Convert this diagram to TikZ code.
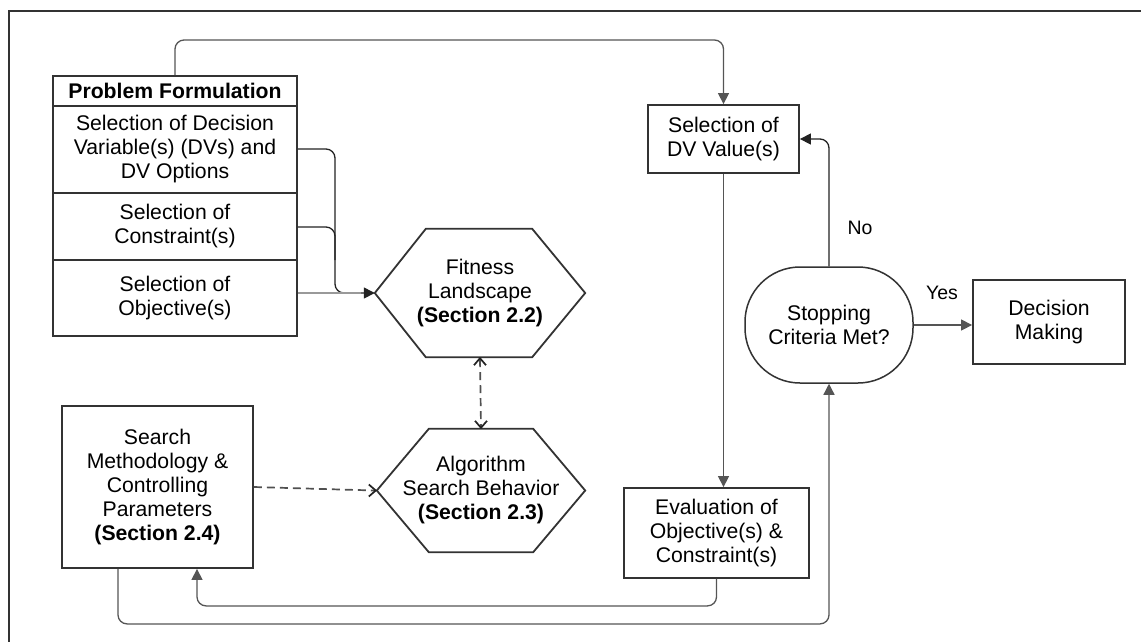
\documentclass[tikz,border=0pt]{standalone}
\usepackage{fontspec}
\setmainfont{Liberation Sans}
\usetikzlibrary{arrows.meta,calc}
\definecolor{bordc}{HTML}{333333}
\definecolor{linec}{HTML}{555555}
\definecolor{darkc}{HTML}{222222}
\definecolor{lightc}{HTML}{999999}
\definecolor{dashc}{HTML}{505050}
\begin{document}
\begin{tikzpicture}[x=1pt,y=-1pt,
  every node/.style={font=\fontsize{21.2}{24}\selectfont, align=center, inner sep=0pt},
  box/.style={draw=bordc, line width=1.8pt, fill=white},
  hexline/.style={draw=bordc, line width=1.8pt},
  conn/.style={draw=linec, line width=1.3pt, rounded corners=9pt},
  arr/.style={-{Triangle[length=11pt,width=11pt]}},
  darr/.style={draw=dashc, line width=1.7pt, dash pattern=on 8pt off 5pt},
  tipseg/.style={draw=darkc, line width=1.7pt, solid, line join=miter},
  lbl/.style={font=\fontsize{19.5}{22}\selectfont}
]
\useasboundingbox (0,0) rectangle (1141,641);
% frame
\draw[draw=bordc, line width=1.8pt] (9,645) -- (9,11) -- (1145,11);

% Problem formulation
\node[box, minimum width=244pt, minimum height=30pt, font=\fontsize{21.2}{24}\selectfont\bfseries] (hdr) at (175,91) {Problem Formulation};
\node[box, minimum width=244pt, minimum height=87pt] (r1) at (175,149.5) {Selection of Decision\\Variable(s) (DVs) and\\DV Options};
\node[box, minimum width=244pt, minimum height=67pt] (r2) at (175,226.5) {Selection of\\Constraint(s)};
\node[box, minimum width=244pt, minimum height=76pt] (r3) at (175,298) {Selection of\\Objective(s)};

% hexagons
\node[minimum width=210pt, minimum height=128pt] (fit) at (480,293) {Fitness\\Landscape\\\textbf{(Section 2.2)}};
\draw[hexline] (fit.west) -- ($(fit.north west)+(51,0)$) -- ($(fit.north east)+(-53,0)$) -- (fit.east) -- ($(fit.south east)+(-53,0)$) -- ($(fit.south west)+(51,0)$) -- cycle;
\node[minimum width=208pt, minimum height=123pt] (alg) at (481,490.5) {Algorithm\\Search Behavior\\\textbf{(Section 2.3)}};
\draw[hexline] (alg.west) -- ($(alg.north west)+(52,0)$) -- ($(alg.north east)+(-52,0)$) -- (alg.east) -- ($(alg.south east)+(-52,0)$) -- ($(alg.south west)+(52,0)$) -- cycle;

% other boxes
\node[box, minimum width=191pt, minimum height=162pt] (search) at (157.5,487) {Search\\Methodology \&\\Controlling\\Parameters\\\textbf{(Section 2.4)}};
\node[box, minimum width=151pt, minimum height=68pt] (seldv) at (723.5,139) {Selection of\\DV Value(s)};
\node[box, minimum width=185pt, minimum height=90pt] (eval) at (716.5,533) {Evaluation of\\Objective(s) \&\\Constraint(s)};
\node[box, draw=bordc, line width=1.5pt, rounded corners=55pt, minimum width=168pt, minimum height=116pt] (stop) at (829,325) {Stopping\\Criteria Met?};
\node[box, minimum width=152pt, minimum height=84pt] (dec) at (1049,322) {Decision\\Making};

% connectors
\coordinate (jx) at (335,0);
\draw[conn, arr] (hdr.north) -- (hdr.north |- 0,40) -| (seldv.north);
\draw[conn, draw=darkc, arr] (r1.east |- 0,149) -- (jx |- 0,149) -- (jx |- fit.west) -- (fit.west);
\draw[conn, draw=darkc] (r2.east |- 0,227) -- (jx |- 0,227) -- (jx |- 0,260);
\draw[conn, draw=lightc] (r3.east |- fit.west) -- ($(fit.west)+(-14,0)$);
% dashed connectors with open chevron tips
\draw[darr] ($(fit.south)+(0,2)$) -- ($(alg.north)+(0,-2)$);
\draw[tipseg] ($(fit.south)+(-6,8)$) -- ($(fit.south)+(0,1)$) -- ($(fit.south)+(6,8)$);
\draw[tipseg] ($(alg.north)+(-6,-8)$) -- ($(alg.north)+(0,-1)$) -- ($(alg.north)+(6,-8)$);
\draw[darr] (search.east) -- ($(alg.west)+(-2,0)$);
\draw[tipseg] ($(alg.west)+(-8,-6)$) -- ($(alg.west)+(-1,0)$) -- ($(alg.west)+(-8,6)$);
\draw[conn, arr] (seldv.south) -- (seldv.south |- eval.north);
\draw[conn, arr] (eval.south) -- ++(0,27) -| ([xshift=39.5pt]search.south);
\draw[conn, arr] ([xshift=-39.5pt]search.south) -- ++(0,55) -| (stop.south);
\draw[conn, draw=darkc, arr] (stop.north) |- (seldv.east);
\draw[conn, arr] (stop.east) -- (stop.east -| dec.west);

% labels
\node[lbl] (no) at (860,228) {No};
\node[lbl] (yes) at (942,293) {Yes};
\end{tikzpicture}
\end{document}
